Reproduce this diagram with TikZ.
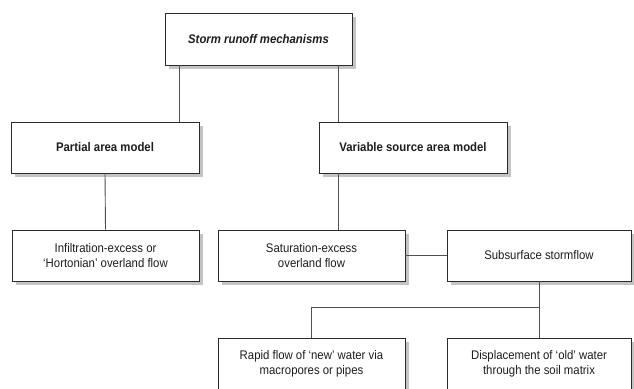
\documentclass[tikz,border=0pt]{standalone}
\usepackage{fontspec}
\setmainfont{Liberation Sans}[FakeStretch=0.91]
\definecolor{boxline}{HTML}{2A2A2A}
\definecolor{conn}{HTML}{505050}
\definecolor{shadowgray}{HTML}{C4C4C4}
\definecolor{txt}{HTML}{1E1E1E}
\tikzset{
  mbox/.style={draw=boxline, line width=0.9pt, fill=white, rectangle,
    minimum height=51pt, inner sep=0pt, align=center, text=txt,
    font=\fontsize{12.5}{15}\selectfont,
    preaction={fill=shadowgray, draw=none, transform canvas={xshift=4pt, yshift=-4pt}}},
  link/.style={draw=conn, line width=0.9pt},
}
\begin{document}
\begin{tikzpicture}[x=1pt,y=-1pt]
\useasboundingbox (0,0) rectangle (634,388);
\coordinate (c1) at (179,0);
\coordinate (c2) at (338,0);
\coordinate (j) at (539,307);
\node[mbox, minimum width=187pt, minimum height=52pt, font=\fontsize{12.5}{15}\selectfont\bfseries\itshape] (top) at (258.5,39) {Storm runoff mechanisms};
\node[mbox, minimum width=188pt, font=\fontsize{12.5}{15}\selectfont\bfseries] (partial) at (105,147.5) {Partial area model};
\node[mbox, minimum width=188pt, font=\fontsize{12.5}{15}\selectfont\bfseries] (variable) at (413,147.5) {Variable source area model};
\node[mbox, minimum width=187pt] (infil) at (105.5,255.5) {Infiltration-excess or\\‘Hortonian’ overland flow};
\node[mbox, minimum width=187pt] (sat) at (311.5,255.5) {Saturation-excess\\overland flow};
\node[mbox, minimum width=184pt] (sub) at (539,255.5) {Subsurface stormflow};
\node[mbox, minimum width=187pt] (rapid) at (311.5,363.5) {Rapid flow of ‘new’ water via\\macropores or pipes};
\node[mbox, minimum width=184pt] (disp) at (539,363.5) {Displacement of ‘old’ water\\through the soil matrix};
\draw[link] (top.south -| c1) -- (partial.north -| c1);
\draw[link] (top.south -| c2) -- (variable.north -| c2);
\draw[link] (partial.south) -- (infil.north);
\draw[link] (variable.south -| c2) -- (sat.north -| c2);
\draw[link] (sat.east) -- (sub.west);
\draw[link] (sub.south) -- (j) -- (j -| rapid) -- (rapid.north);
\draw[link] (j) -- (disp.north);
\end{tikzpicture}
\end{document}
